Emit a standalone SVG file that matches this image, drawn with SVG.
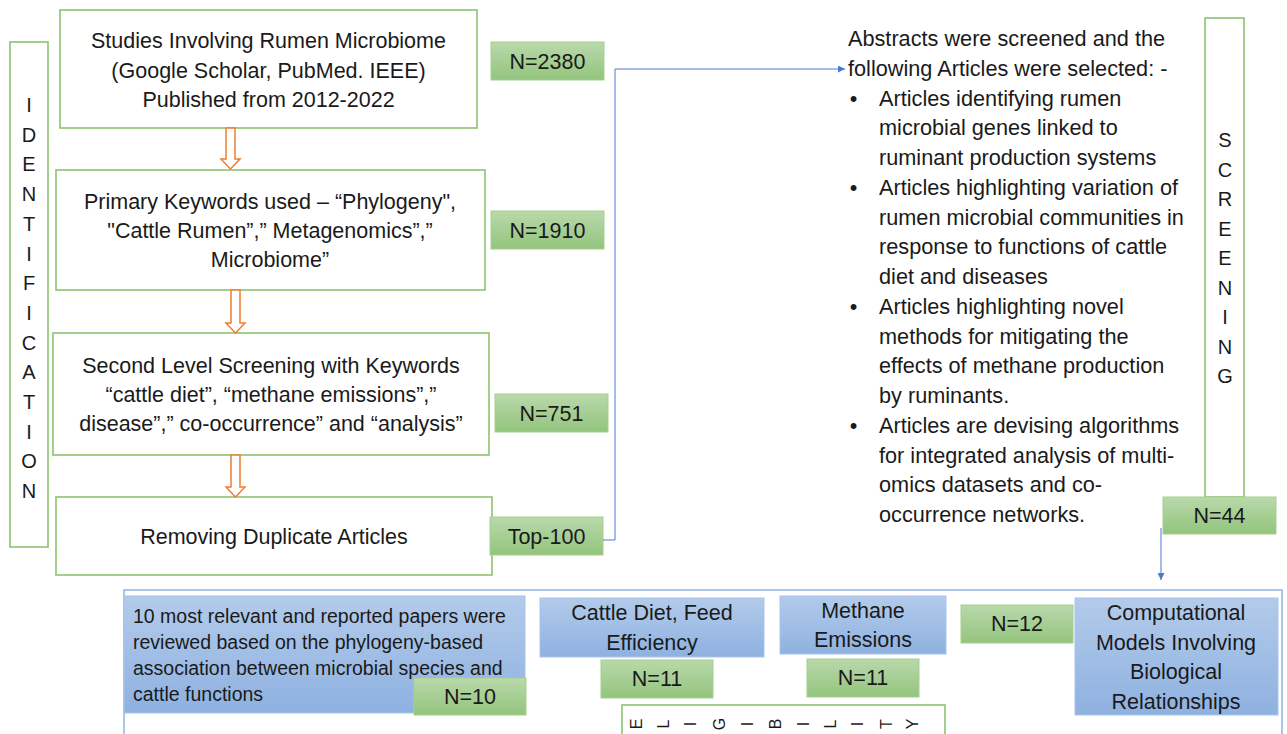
<svg xmlns="http://www.w3.org/2000/svg" width="1287" height="734" viewBox="0 0 1287 734">
<defs>
<linearGradient id="gGreen" x1="0" y1="0" x2="0" y2="1">
<stop offset="0" stop-color="#b9d9ab"/>
<stop offset="1" stop-color="#93c47d"/>
</linearGradient>
<linearGradient id="gBlue" x1="0" y1="0" x2="0" y2="1">
<stop offset="0" stop-color="#b3cbeb"/>
<stop offset="1" stop-color="#8eb1e0"/>
</linearGradient>
<marker id="arr" viewBox="0 0 10 10" refX="10" refY="5" markerWidth="7" markerHeight="7" markerUnits="userSpaceOnUse" orient="auto">
<path d="M0,0 L10,5 L0,10 Z" fill="#4a7bd0"/>
</marker>
<style>
text{font-family:"Liberation Sans",Arial,sans-serif;fill:#1a1a1a}
.box{fill:#fff;stroke:#8cc26f;stroke-width:1.6}
.n{fill:url(#gGreen);stroke:#a6cf92;stroke-width:1}
.bl{fill:url(#gBlue);stroke:#a9c4eb;stroke-width:1}
.t{font-size:21.5px;text-anchor:middle}
.tl{font-size:21.7px}
.ts{font-size:19.5px}
.v{font-size:20px;text-anchor:middle}
.e{font-size:16px;text-anchor:middle;dominant-baseline:central}
.oa{fill:#fff;stroke:#ed7d31;stroke-width:1.5}
.cn{fill:none;stroke:#4a7bd0;stroke-width:1}
.outer{fill:none;stroke:#8fb4e3;stroke-width:1.5}
</style>
</defs>

<g id="identification">
<rect class="box" x="10" y="42" width="38" height="505"/>
<text class="v" x="29" y="112">I</text>
<text class="v" x="29" y="141.7">D</text>
<text class="v" x="29" y="171.4">E</text>
<text class="v" x="29" y="201.1">N</text>
<text class="v" x="29" y="230.8">T</text>
<text class="v" x="29" y="260.5">I</text>
<text class="v" x="29" y="290.2">F</text>
<text class="v" x="29" y="319.9">I</text>
<text class="v" x="29" y="349.6">C</text>
<text class="v" x="29" y="379.3">A</text>
<text class="v" x="29" y="409">T</text>
<text class="v" x="29" y="438.7">I</text>
<text class="v" x="29" y="468.4">O</text>
<text class="v" x="29" y="498.1">N</text>
</g>

<g id="box1">
<rect class="box" x="60" y="10" width="417" height="118"/>
<text class="t" x="268.5" y="48">Studies Involving Rumen Microbiome</text>
<text class="t" x="268.5" y="77.5">(Google Scholar, PubMed. IEEE)</text>
<text class="t" x="268.5" y="107">Published from 2012-2022</text>
</g>
<g id="n2380">
<rect class="n" x="491" y="42" width="113" height="38"/>
<text class="t" x="547.5" y="68.5">N=2380</text>
</g>

<g id="box2">
<rect class="box" x="56" y="170" width="429" height="120"/>
<text class="t" x="270" y="209">Primary Keywords used – “Phylogeny",</text>
<text class="t" x="270" y="238">"Cattle Rumen”,” Metagenomics”,”</text>
<text class="t" x="270" y="267">Microbiome”</text>
</g>
<g id="n1910">
<rect class="n" x="491" y="211" width="113" height="38"/>
<text class="t" x="547.5" y="237.5">N=1910</text>
</g>

<g id="box3">
<rect class="box" x="53" y="333" width="436" height="122"/>
<text class="t" x="271" y="373">Second Level Screening with Keywords</text>
<text class="t" x="271" y="402">“cattle diet”, “methane emissions”,”</text>
<text class="t" x="271" y="431">disease”,” co-occurrence” and “analysis”</text>
</g>
<g id="n751">
<rect class="n" x="495" y="394" width="113" height="38"/>
<text class="t" x="551.5" y="420.5">N=751</text>
</g>

<g id="box4">
<rect class="box" x="56" y="497" width="436" height="78"/>
<text class="t" x="274" y="544">Removing Duplicate Articles</text>
</g>
<g id="top100">
<rect class="n" x="490" y="517" width="113" height="38"/>
<text class="t" x="546.5" y="543.5">Top-100</text>
</g>

<g id="screening-text">
<text class="tl" x="848" y="46">Abstracts were screened and the</text>
<text class="tl" x="848" y="75.75">following Articles were selected: -</text>
<text class="tl" x="853.5" y="105.5" text-anchor="middle">•</text>
<text class="tl" x="879" y="105.5">Articles identifying rumen</text>
<text class="tl" x="879" y="135.25">microbial genes linked to</text>
<text class="tl" x="879" y="165">ruminant production systems</text>
<text class="tl" x="853.5" y="194.75" text-anchor="middle">•</text>
<text class="tl" x="879" y="194.75">Articles highlighting variation of</text>
<text class="tl" x="879" y="224.5">rumen microbial communities in</text>
<text class="tl" x="879" y="254.25">response to functions of cattle</text>
<text class="tl" x="879" y="284">diet and diseases</text>
<text class="tl" x="853.5" y="313.75" text-anchor="middle">•</text>
<text class="tl" x="879" y="313.75">Articles highlighting novel</text>
<text class="tl" x="879" y="343.5">methods for mitigating the</text>
<text class="tl" x="879" y="373.25">effects of methane production</text>
<text class="tl" x="879" y="403">by ruminants.</text>
<text class="tl" x="853.5" y="432.75" text-anchor="middle">•</text>
<text class="tl" x="879" y="432.75">Articles are devising algorithms</text>
<text class="tl" x="879" y="462.5">for integrated analysis of multi-</text>
<text class="tl" x="879" y="492.25">omics datasets and co-</text>
<text class="tl" x="879" y="522">occurrence networks.</text>
</g>

<g id="screening">
<rect class="box" x="1205" y="18" width="39" height="479"/>
<text class="v" x="1225" y="147">S</text>
<text class="v" x="1225" y="176.5">C</text>
<text class="v" x="1225" y="206">R</text>
<text class="v" x="1225" y="235.5">E</text>
<text class="v" x="1225" y="265">E</text>
<text class="v" x="1225" y="294.5">N</text>
<text class="v" x="1225" y="324">I</text>
<text class="v" x="1225" y="353.5">N</text>
<text class="v" x="1225" y="383">G</text>
</g>
<g id="n44">
<rect class="n" x="1163" y="497" width="113" height="37"/>
<text class="t" x="1219.5" y="523">N=44</text>
</g>

<g id="eligibility-frame">
<path class="outer" d="M124,740 V590 H1282 V740"/>
</g>

<g id="phylogeny">
<rect class="bl" x="124" y="596" width="401" height="117"/>
<text class="ts" x="133" y="623">10 most relevant and reported papers were</text>
<text class="ts" x="133" y="649">reviewed based on the phylogeny-based</text>
<text class="ts" x="133" y="675">association between microbial species and</text>
<text class="ts" x="133" y="701">cattle functions</text>
</g>
<g id="n10">
<rect class="n" x="414" y="678" width="112" height="37"/>
<text class="t" x="470" y="704">N=10</text>
</g>

<g id="cattle-diet">
<rect class="bl" x="540" y="598" width="224" height="59"/>
<text class="t" x="652" y="620">Cattle Diet, Feed</text>
<text class="t" x="652" y="650">Efficiency</text>
</g>
<g id="n11a">
<rect class="n" x="601" y="660" width="112" height="38"/>
<text class="t" x="657" y="686">N=11</text>
</g>

<g id="methane">
<rect class="bl" x="780" y="596" width="166" height="58"/>
<text class="t" x="863" y="618">Methane</text>
<text class="t" x="863" y="647">Emissions</text>
</g>
<g id="n11b">
<rect class="n" x="807" y="659" width="112" height="38"/>
<text class="t" x="863" y="685">N=11</text>
</g>

<g id="n12">
<rect class="n" x="961" y="605" width="112" height="38"/>
<text class="t" x="1017" y="631">N=12</text>
</g>
<g id="computational">
<rect class="bl" x="1075" y="598" width="203" height="117"/>
<text class="t" x="1176" y="620">Computational</text>
<text class="t" x="1176" y="649.5">Models Involving</text>
<text class="t" x="1176" y="679">Biological</text>
<text class="t" x="1176" y="708.5">Relationships</text>
</g>

<g id="eligibility">
<rect class="box" x="622" y="705" width="323" height="45"/>
<text class="e" transform="translate(636,724) rotate(-90)">E</text>
<text class="e" transform="translate(663,724) rotate(-90)">L</text>
<text class="e" transform="translate(690,724) rotate(-90)">I</text>
<text class="e" transform="translate(719,724) rotate(-90)">G</text>
<text class="e" transform="translate(747,724) rotate(-90)">I</text>
<text class="e" transform="translate(775,724) rotate(-90)">B</text>
<text class="e" transform="translate(803,724) rotate(-90)">I</text>
<text class="e" transform="translate(830,724) rotate(-90)">L</text>
<text class="e" transform="translate(857,724) rotate(-90)">I</text>
<text class="e" transform="translate(886,724) rotate(-90)">T</text>
<text class="e" transform="translate(912,724) rotate(-90)">Y</text>
</g>

<g id="connectors">
<path class="oa" d="M226,128 H235 V159 H240 L230.5,169 L221,159 H226 Z"/>
<path class="oa" d="M231,290 H240 V323 H245 L235.5,333 L226,323 H231 Z"/>
<path class="oa" d="M231,455 H240 V487 H245 L235.5,497 L226,487 H231 Z"/>
<path class="cn" d="M603,540 H615 V69 H845" marker-end="url(#arr)"/>
<path class="cn" d="M1161,528 V580" marker-end="url(#arr)"/>
</g>
</svg>
